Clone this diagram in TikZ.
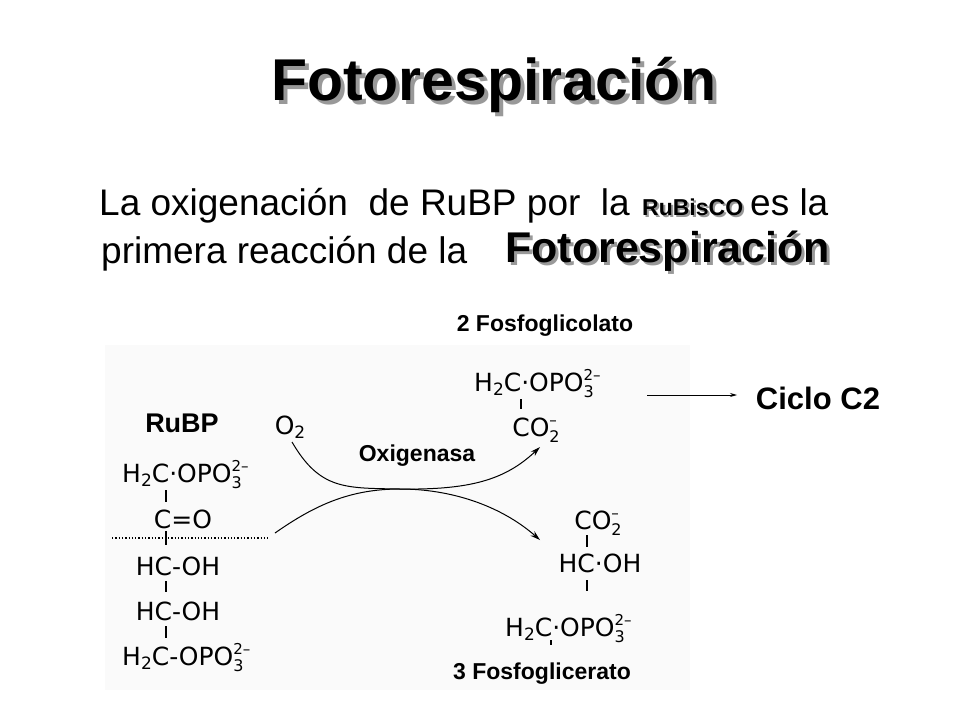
\documentclass[tikz,border=0pt]{standalone}
\usepackage{fontspec}
\setmainfont{Liberation Sans}
\newfontfamily\chemf{DejaVu Sans}
\usetikzlibrary{arrows.meta}
\newcommand\chsub[1]{\raisebox{-0.35ex}{\fontsize{17}{17}\selectfont #1}}
\newcommand\chion[2]{\rlap{\raisebox{0.8ex}{\fontsize{15}{15}\selectfont #1}}\raisebox{-0.45ex}{\fontsize{16}{16}\selectfont #2}}
\begin{document}
\begin{tikzpicture}[x=1pt,y=-1pt,
  chem/.style={font=\chemf\fontsize{25}{27}\selectfont,inner sep=0pt,anchor=base},
  lbl/.style={font=\bfseries\fontsize{23}{25}\selectfont,inner sep=0pt},
  bond/.style={line width=1.8pt},
  shadow/.style={text=black!40},
  rx/.style={line width=1pt,-{Stealth[length=10pt,width=6pt]}}]
\useasboundingbox (0,0) rectangle (960,720);
\fill[white] (0,0) rectangle (960,720);
\fill[black!2] (105,345) rectangle (690,690);
% title
\node[shadow,font=\bfseries\fontsize{59}{61}\selectfont] at (498,89) {Fotorespiración};
\node (title) [font=\bfseries\fontsize{59}{61}\selectfont] at (494,85) {Fotorespiración};
% subtitle
\node (l1) [font=\fontsize{37}{39}\selectfont,anchor=base west,inner sep=0pt] at (99,215) {La oxigenación\ \ de RuBP por \ la};
\node[shadow,font=\bfseries\fontsize{23}{25}\selectfont,anchor=base west,inner sep=0pt] at (644,217) {RuBisCO};
\node (rub) [font=\bfseries\fontsize{23}{25}\selectfont,anchor=base west,inner sep=0pt] at (642,215) {RuBisCO};
\node (l1b) [font=\fontsize{37}{39}\selectfont,anchor=base west,inner sep=0pt] at (750,215) {es la};
\node (l2) [font=\fontsize{37}{39}\selectfont,anchor=base west,inner sep=0pt] at (101,263) {primera reacción de la};
\node[shadow,font=\bfseries\fontsize{43}{45}\selectfont,anchor=base west,inner sep=0pt] at (508,265) {Fotorespiración};
\node (fr2) [font=\bfseries\fontsize{43}{45}\selectfont,anchor=base west,inner sep=0pt] at (505,262) {Fotorespiración};
% RuBP
\node (rubp) [font=\bfseries\fontsize{27}{29}\selectfont,inner sep=0pt] at (182,423) {RuBP};
\node (r1) [chem,anchor=base west] at (122,482) {H\chsub{2}C·OPO\chion{2–}{3}};
\node (r2) [chem] at (183,528) {C=O};
\node (r3) [chem] at (178,575) {HC-OH};
\node (r4) [chem] at (178,620) {HC-OH};
\node (r5) [chem,anchor=base west] at (122,665) {H\chsub{2}C-OPO\chion{2–}{3}};
\draw[bond] (166,490) -- (166,502);
\draw[bond] (166,531) -- (166,545);
\draw[bond] (166,581) -- (166,592);
\draw[bond] (166,626) -- (166,638);
\draw[line width=1.3pt,dotted] (112,538) -- (270,538);
\node (o2) [chem] at (290,434) {O\chsub{2}};
\node (oxi) [lbl] at (417,456) {Oxigenasa};
\coordinate (mid) at (400,489);
\draw[rx] (292,442) .. controls (320,490) and (345,488) .. (mid) .. controls (470,490) and (505,480) .. (540,447);
\draw[rx] (275,533) .. controls (315,505) and (350,489) .. (mid) .. controls (450,489) and (500,505) .. (540,540);
% products
\node (f1) [lbl] at (545,326) {2 Fosfoglicolato};
\node (p1) [chem,anchor=base west] at (474,391) {H\chsub{2}C·OPO\chion{2–}{3}};
\draw[bond] (521,399) -- (521,409);
\node (p2) [chem] at (536,436) {CO\chion{–}{2}};
\node (p3) [chem] at (598,529) {CO\chion{–}{2}};
\draw[bond] (587,535) -- (587,547);
\node (p4) [chem] at (600,572) {HC·OH};
\draw[bond] (587,580) -- (587,591);
\node (p5) [chem,anchor=base west] at (505,636) {H\chsub{2}C·OPO\chion{2–}{3}};
\draw[bond] (551,640) -- (551,645);
\node (f2) [lbl] at (542,674) {3 Fosfoglicerato};
\coordinate (a0) at (647,395);
\node (c2) [font=\bfseries\fontsize{31}{33}\selectfont,inner sep=0pt] at (818,398) {Ciclo C2};
\draw[line width=0.8pt,-{Stealth[length=7pt,width=4pt]}] (a0) -- (737,395);
\end{tikzpicture}
\end{document}
